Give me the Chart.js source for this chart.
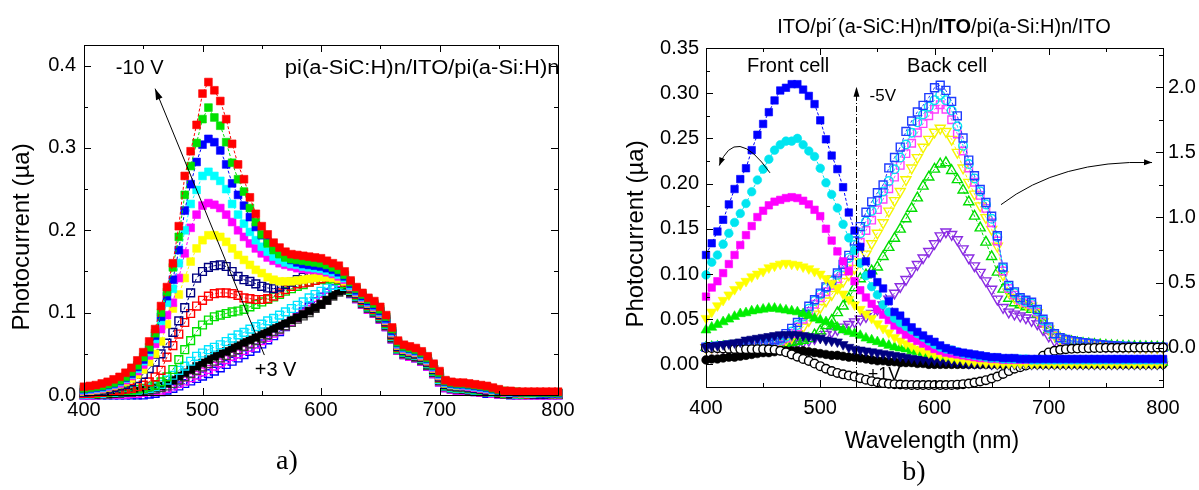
<!DOCTYPE html>
<html><head><meta charset="utf-8">
<script src="https://cdn.jsdelivr.net/npm/chart.js@4.4.1/dist/chart.umd.min.js"></script>
<style>
html,body{margin:0;padding:0;background:#fff;}
#wrap{position:relative;width:1199px;height:490px;overflow:hidden;background:#fff;}
canvas{position:absolute;top:0;}
</style></head>
<body><div id="wrap">
<canvas id="ca" width="600" height="490" style="left:0px;width:600px;height:490px"></canvas>
<canvas id="cb" width="599" height="490" style="left:600px;width:599px;height:490px"></canvas>
</div>
<script>
// ---------- shared wavelength grid (nm) ----------
const WL = [400,405,410,415,420,425,430,435,440,445,
450,455,460,465,470,475,480,485,490,495,
500,505,510,515,520,525,530,535,540,545,
550,555,560,565,570,575,580,585,590,595,
600,605,610,615,620,625,630,635,640,645,
650,655,660,665,670,675,680,685,690,695,
700,705,710,715,720,725,730,735,740,745,
750,755,760,765,770,775,780,785,790,795,800];

// ---------- panel a : pi(a-SiC:H)n/ITO/pi(a-Si:H)n, -10 V ... +3 V ----------
const A_RED_F = [.010,.011,.012,.014,.016,.019,.022,.027,.033,.042,
.052,.065,.080,.108,.131,.160,.205,.266,.296,.328,
.366,.380,.370,.357,.335,.305,.280,.262,.240,.220,
.205,.195,.185,.179,.174,.171,.170,.169,.168,.167,
.166,.163,.160,.157,.150,.139,.131,.124,.118,.114,
.107,.097,.082,.066,.061,.059,.057,.053,.047,.038,
.029,.018,.016,.015,.015,.014,.013,.012,.011,.009,
.007,.005,.005,.004,.004,.004,.004,.004,.004,.004,.004];
const A_GRN_F = [.008,.009,.010,.011,.013,.015,.018,.022,.028,.036,
.046,.058,.075,.100,.125,.155,.192,.243,.278,.306,
.335,.349,.337,.327,.307,.282,.262,.247,.227,.210,
.195,.184,.176,.171,.167,.165,.164,.163,.162,.161,
.160,.158,.155,.152,.146,.137,.129,.122,.116,.111,
.104,.095,.080,.064,.059,.057,.055,.051,.045,.036,
.027,.017,.015,.014,.014,.013,.012,.011,.010,.008,
.006,.005,.004,.004,.003,.003,.003,.003,.003,.003,.003];
const A_BLU_F = [.007,.008,.009,.010,.012,.014,.017,.021,.026,.034,
.043,.055,.072,.095,.120,.140,.176,.224,.256,.283,
.304,.311,.307,.297,.280,.257,.243,.230,.216,.204,
.194,.186,.179,.172,.168,.164,.161,.159,.158,.157,
.156,.154,.152,.149,.144,.135,.127,.120,.114,.109,
.102,.093,.078,.063,.058,.056,.054,.050,.044,.035,
.026,.016,.014,.013,.013,.012,.011,.010,.009,.007,
.005,.004,.004,.003,.003,.003,.003,.002,.002,.002,.002];
const A_CYN_F = [.006,.007,.008,.009,.011,.013,.016,.020,.025,.032,
.041,.052,.068,.090,.112,.129,.160,.200,.232,.249,
.266,.271,.266,.260,.250,.232,.219,.208,.198,.188,
.180,.174,.168,.164,.161,.159,.158,.156,.155,.154,
.153,.151,.149,.146,.142,.133,.126,.119,.113,.108,
.101,.092,.077,.062,.057,.055,.053,.049,.043,.034,
.025,.015,.013,.012,.012,.011,.010,.009,.008,.006,
.005,.004,.003,.003,.003,.002,.002,.002,.002,.002,.002];
const A_MAG_F = [.005,.006,.007,.008,.010,.012,.014,.018,.023,.029,
.037,.048,.062,.080,.097,.112,.142,.172,.203,.219,
.230,.233,.231,.227,.219,.210,.200,.192,.184,.178,
.172,.167,.163,.160,.158,.156,.154,.153,.152,.152,
.151,.149,.147,.144,.140,.132,.125,.118,.112,.107,
.100,.091,.076,.061,.056,.054,.052,.048,.042,.033,
.024,.015,.013,.012,.011,.010,.009,.008,.007,.006,
.004,.003,.003,.003,.002,.002,.002,.002,.002,.002,.002];
const A_YEL_F = [.004,.005,.006,.007,.009,.011,.013,.016,.020,.025,
.031,.040,.050,.065,.086,.105,.122,.142,.162,.178,
.188,.194,.194,.192,.186,.178,.170,.164,.158,.152,
.148,.143,.140,.138,.138,.138,.139,.140,.141,.142,
.143,.143,.142,.141,.138,.131,.124,.117,.111,.106,
.099,.090,.075,.060,.055,.053,.051,.047,.041,.032,
.023,.014,.012,.011,.011,.010,.009,.008,.007,.005,
.004,.003,.003,.002,.002,.002,.002,.002,.002,.001,.001];
const A_NAV_O = [.003,.004,.005,.006,.007,.009,.011,.013,.016,.020,
.025,.032,.040,.050,.063,.076,.090,.106,.124,.142,
.150,.155,.157,.158,.156,.150,.144,.140,.138,.135,
.132,.130,.129,.131,.134,.137,.140,.143,.145,.146,
.147,.148,.147,.144,.139,.130,.123,.116,.110,.105,
.098,.089,.074,.059,.054,.052,.050,.046,.040,.031,
.022,.013,.011,.010,.010,.009,.008,.007,.006,.005,
.004,.003,.002,.002,.002,.002,.001,.001,.001,.001,.001];
const A_RED_O = [.002,.002,.003,.003,.004,.005,.006,.007,.008,.010,
.012,.016,.022,.030,.046,.060,.074,.088,.099,.108,
.115,.120,.123,.124,.124,.123,.121,.118,.117,.116,
.116,.117,.120,.124,.128,.132,.135,.136,.137,.139,
.141,.143,.143,.141,.137,.129,.122,.115,.109,.104,
.097,.088,.073,.058,.054,.052,.050,.046,.040,.031,
.021,.013,.011,.010,.010,.009,.008,.007,.006,.005,
.004,.003,.002,.002,.002,.001,.001,.001,.001,.001,.001];
const A_GRN_O = [.002,.002,.002,.003,.003,.004,.005,.005,.006,.007,
.008,.010,.012,.016,.022,.031,.043,.055,.066,.077,
.085,.091,.095,.097,.099,.101,.102,.104,.107,.110,
.113,.116,.119,.122,.126,.129,.132,.134,.137,.139,
.140,.141,.141,.139,.135,.128,.121,.114,.108,.103,
.096,.087,.072,.057,.053,.051,.049,.045,.039,.030,
.020,.012,.010,.009,.009,.008,.007,.006,.005,.004,
.003,.002,.002,.002,.001,.001,.001,.001,.001,.001,.001];
const A_CYN_O = [.001,.001,.002,.002,.003,.003,.004,.004,.005,.006,
.007,.008,.010,.013,.018,.024,.030,.035,.041,.047,
.051,.055,.058,.061,.065,.069,.073,.076,.080,.083,
.086,.090,.093,.097,.101,.105,.109,.113,.118,.122,
.126,.130,.133,.134,.132,.127,.120,.113,.107,.102,
.095,.086,.071,.056,.052,.050,.048,.044,.038,.029,
.019,.011,.009,.008,.008,.007,.006,.005,.004,.003,
.003,.002,.002,.001,.001,.001,.001,.001,.001,.001,.001];
const A_BLK_F = [.001,.001,.001,.002,.002,.002,.003,.003,.004,.005,
.006,.007,.009,.011,.014,.018,.023,.027,.031,.035,
.039,.043,.047,.050,.053,.057,.060,.064,.067,.070,
.074,.077,.081,.084,.087,.091,.094,.098,.102,.106,
.110,.115,.121,.126,.128,.125,.119,.112,.106,.101,
.094,.085,.070,.056,.051,.049,.047,.043,.037,.028,
.018,.011,.009,.008,.007,.006,.005,.004,.004,.003,
.002,.002,.001,.001,.001,.001,.001,.001,.001,.001,.001];
const A_GRY_O = [.001,.001,.001,.001,.001,.002,.002,.003,.003,.004,
.005,.006,.007,.009,.011,.014,.018,.022,.026,.030,
.034,.038,.041,.045,.048,.052,.055,.059,.062,.066,
.069,.073,.077,.080,.084,.088,.092,.096,.100,.105,
.110,.115,.120,.125,.127,.124,.118,.111,.105,.100,
.093,.084,.069,.055,.050,.048,.046,.042,.036,.027,
.017,.010,.008,.007,.007,.006,.005,.004,.003,.003,
.002,.001,.001,.001,.001,.001,.001,.001,.001,.001,.001];
const A_MAG_O = [.000,.000,.000,.001,.001,.001,.001,.001,.002,.002,
.003,.004,.005,.006,.008,.011,.014,.017,.021,.024,
.028,.031,.035,.039,.043,.047,.050,.054,.058,.062,
.066,.070,.075,.079,.084,.089,.094,.099,.104,.109,
.114,.119,.124,.127,.128,.124,.117,.110,.104,.099,
.092,.083,.068,.054,.049,.047,.045,.041,.035,.026,
.016,.009,.007,.006,.006,.005,.004,.003,.003,.002,
.001,.001,.001,.000,.000,.000,.000,.000,.000,.000,.000];
const A_BLU_O = [.000,.000,.000,.000,.000,.000,.000,.000,.000,.000,
.000,.001,.002,.004,.006,.008,.011,.014,.017,.020,
.023,.026,.029,.033,.037,.041,.045,.049,.053,.057,
.062,.067,.072,.077,.083,.089,.095,.101,.107,.113,
.119,.124,.129,.131,.129,.123,.117,.110,.104,.099,
.092,.083,.068,.054,.049,.047,.045,.041,.035,.026,
.016,.009,.007,.006,.006,.005,.004,.003,.002,.002,
.001,.001,.000,.000,.000,.000,.000,.000,.000,.000,.000];

// ---------- panel b : front cell (left axis, filled) ----------
const B_BLU_F = [.121,.134,.147,.160,.177,.194,.205,.217,.237,.254,
.266,.279,.292,.303,.306,.310,.310,.304,.297,.288,
.270,.249,.231,.216,.196,.168,.148,.130,.114,.100,
.091,.084,.070,.058,.054,.047,.041,.036,.032,.028,
.025,.021,.018,.016,.014,.013,.012,.011,.010,.009,
.008,.008,.007,.007,.007,.006,.006,.006,.006,.006,
.006,.006,.006,.006,.006,.006,.006,.006,.006,.006,
.006,.006,.006,.006,.006,.006,.006,.006,.006,.006,.006];
const B_CYN_F = [.099,.113,.121,.133,.145,.157,.167,.178,.191,.204,
.216,.227,.237,.243,.247,.247,.250,.243,.236,.230,
.217,.201,.188,.173,.155,.140,.126,.112,.098,.086,
.077,.066,.058,.051,.046,.042,.038,.034,.030,.026,
.022,.019,.017,.016,.014,.012,.011,.010,.009,.008,
.007,.007,.006,.006,.006,.006,.006,.005,.005,.005,
.005,.005,.005,.005,.005,.005,.005,.005,.005,.005,
.005,.005,.005,.005,.005,.005,.005,.005,.005,.005,.005];
const B_MAG_F = [.075,.085,.092,.101,.111,.121,.132,.143,.153,.163,
.170,.176,.180,.182,.184,.185,.184,.181,.177,.171,
.164,.150,.137,.125,.114,.103,.092,.082,.074,.067,
.061,.055,.049,.043,.038,.033,.029,.026,.023,.020,
.017,.015,.013,.012,.011,.010,.009,.008,.007,.007,
.006,.006,.005,.005,.005,.005,.005,.005,.005,.005,
.005,.005,.005,.005,.005,.005,.005,.005,.005,.005,
.005,.005,.005,.005,.005,.005,.005,.005,.005,.005,.005];
const B_YEL_F = [.051,.058,.065,.071,.077,.083,.088,.092,.097,.100,
.103,.107,.109,.111,.112,.111,.110,.108,.106,.103,
.100,.095,.090,.084,.078,.072,.066,.061,.056,.051,
.045,.040,.035,.030,.026,.023,.020,.017,.015,.013,
.011,.010,.009,.007,.006,.005,.004,.003,.003,.002,
.002,.001,.001,.001,.001,.001,.001,.001,.001,.001,
.001,.001,.001,.001,.001,.001,.001,.001,.001,.001,
.001,.001,.001,.001,.001,.001,.001,.001,.001,.001,.001];
const B_GRN_F = [.038,.041,.044,.047,.050,.053,.056,.057,.059,.060,
.061,.062,.062,.061,.060,.059,.058,.056,.054,.051,
.049,.047,.044,.041,.038,.036,.034,.032,.029,.027,
.025,.023,.021,.019,.018,.017,.015,.014,.013,.012,
.011,.010,.009,.008,.007,.007,.006,.006,.005,.004,
.004,.003,.003,.002,.002,.002,.002,.002,.002,.002,
.002,.002,.002,.002,.002,.002,.002,.002,.002,.002,
.002,.002,.002,.002,.002,.002,.002,.002,.002,.002,.002];
const B_NAV_F = [.019,.020,.021,.022,.023,.024,.025,.027,.028,.029,
.030,.031,.032,.033,.033,.033,.033,.032,.031,.030,
.029,.027,.026,.025,.022,.019,.017,.016,.015,.014,
.013,.012,.011,.010,.009,.008,.007,.006,.006,.005,
.005,.004,.004,.003,.003,.002,.001,.001,.001,.001,
.000,.000,.000,.000,.000,.000,.000,.000,.000,.000,
.000,.000,.000,.000,.000,.000,.000,.000,.000,.000,
.000,.000,.000,.000,.000,.000,.000,.000,.000,.000,.000];
const B_BLK_F = [.005,.006,.006,.007,.008,.008,.009,.010,.011,.012,
.013,.013,.014,.015,.015,.015,.015,.015,.014,.013,
.012,.011,.010,.010,.009,.008,.008,.007,.006,.005,
.004,.004,.003,.003,.002,.002,.002,.001,.001,.000,
.000,.000,.000,.000,.000,.000,.000,.000,.000,.000,
.000,.000,.000,.000,.000,.000,.000,.000,.000,.000,
.000,.000,.000,.000,.000,.000,.000,.000,.000,.000,
.000,.000,.000,.000,.000,.000,.000,.000,.000,.000,.000];

// ---------- panel b : back cell (right axis, open) ----------
const B_BLU_O = [.005,.010,.014,.017,.020,.024,.028,.033,.037,.041,
.046,.052,.062,.076,.110,.150,.195,.255,.320,.370,
.420,.468,.520,.575,.640,.710,.820,.930,1.040,1.120,
1.190,1.250,1.380,1.460,1.540,1.660,1.740,1.810,1.860,1.920,
1.995,2.015,1.975,1.890,1.780,1.610,1.440,1.320,1.215,1.115,
1.010,.860,.620,.480,.430,.385,.366,.350,.295,.220,
.160,.110,.078,.065,.055,.047,.041,.036,.030,.024,
.020,.017,.015,.012,.011,.010,.010,.009,.008,.006,.005];
const B_CYN_O = [.004,.008,.012,.015,.018,.022,.026,.030,.034,.037,
.040,.044,.048,.060,.085,.125,.175,.240,.300,.360,
.410,.460,.510,.560,.620,.690,.790,.880,.970,1.050,
1.130,1.200,1.280,1.370,1.460,1.560,1.650,1.730,1.790,1.850,
1.900,1.940,1.900,1.820,1.700,1.550,1.410,1.300,1.200,1.100,
.990,.850,.610,.470,.420,.375,.355,.340,.285,.210,
.150,.105,.075,.062,.053,.045,.039,.034,.028,.023,
.019,.016,.014,.012,.010,.009,.009,.008,.007,.006,.005];
const B_MAG_O = [.004,.007,.010,.013,.016,.019,.022,.026,.029,.032,
.035,.039,.045,.055,.075,.110,.160,.220,.280,.335,
.385,.430,.480,.530,.590,.650,.730,.810,.900,.980,
1.060,1.140,1.220,1.310,1.400,1.490,1.570,1.650,1.720,1.780,
1.830,1.865,1.830,1.750,1.640,1.510,1.380,1.270,1.170,1.070,
.960,.820,.590,.455,.405,.365,.345,.330,.275,.200,
.145,.100,.072,.060,.051,.044,.038,.033,.027,.022,
.018,.015,.013,.011,.010,.009,.008,.007,.006,.005,.004];
const B_YEL_O = [.003,.006,.009,.012,.014,.017,.020,.023,.026,.029,
.032,.035,.040,.048,.060,.080,.110,.160,.210,.260,
.310,.360,.410,.460,.510,.560,.610,.660,.720,.800,
.880,.960,1.050,1.130,1.200,1.290,1.380,1.460,1.540,1.600,
1.655,1.685,1.660,1.600,1.500,1.380,1.270,1.180,1.090,1.000,
.910,.780,.560,.430,.385,.350,.335,.320,.270,.200,
.145,.100,.072,.060,.051,.044,.038,.033,.028,.023,
.019,.016,.014,.012,.010,.009,.008,.007,.006,.005,.004];
const B_GRN_O = [.003,.005,.007,.009,.011,.013,.015,.017,.019,.021,
.023,.025,.027,.030,.034,.040,.048,.058,.070,.100,
.130,.170,.210,.270,.320,.380,.460,.530,.560,.590,
.620,.700,.770,.840,.910,.990,1.070,1.150,1.240,1.310,
1.370,1.410,1.420,1.360,1.290,1.210,1.120,1.010,.920,.810,
.700,.580,.450,.380,.345,.330,.315,.295,.260,.195,
.140,.095,.068,.055,.047,.040,.034,.030,.026,.022,
.019,.016,.014,.012,.011,.010,.009,.008,.007,.006,.005];
const B_VIO_O = [.002,.003,.004,.005,.006,.007,.008,.009,.010,.011,
.012,.013,.014,.016,.019,.025,.033,.045,.058,.072,
.087,.104,.122,.140,.160,.180,.200,.220,.240,.265,
.295,.330,.375,.420,.470,.525,.590,.640,.690,.740,
.800,.860,.890,.870,.830,.760,.690,.630,.580,.515,
.450,.375,.310,.275,.260,.245,.230,.210,.185,.140,
.090,.055,.040,.032,.027,.023,.020,.017,.015,.013,
.011,.010,.009,.008,.007,.006,.005,.005,.004,.004,.003];
const B_BLK_O = [.000,.000,-.002,-.004,-.006,-.008,-.009,-.010,-.010,-.010,
-.010,-.011,-.014,-.022,-.034,-.050,-.068,-.085,-.100,-.120,
-.140,-.160,-.178,-.192,-.203,-.212,-.220,-.232,-.244,-.255,
-.264,-.270,-.275,-.278,-.281,-.283,-.284,-.285,-.285,-.285,
-.285,-.285,-.285,-.284,-.282,-.278,-.273,-.266,-.258,-.248,
-.235,-.220,-.200,-.178,-.160,-.148,-.135,-.120,-.095,-.060,
-.035,-.022,-.015,-.010,-.007,-.005,-.003,-.002,.000,.000,
.001,.001,.001,.001,.002,.002,.002,.002,.002,.002,.002];

// ---------- tick labels ----------
const A_X_TICKS = [400,500,600,700,800];
const A_X_MINOR = [450,550,650,750];
const A_Y_TICKS = [0,0.1,0.2,0.3,0.4];
const A_Y_MINOR = [0.05,0.15,0.25,0.35];
const B_X_TICKS = [400,500,600,700,800];
const B_X_MINOR = [450,550,650,750];
const B_YL_TICKS = [0,0.05,0.10,0.15,0.20,0.25,0.30,0.35];
const B_YL_MINOR = [0.025,0.075,0.125,0.175,0.225,0.275,0.325];
const B_YR_TICKS = [0,0.5,1.0,1.5,2.0];
const B_YR_MINOR = [-0.25,0.25,0.75,1.25,1.75,2.25];

const SANS = "'Liberation Sans', Arial, Helvetica, sans-serif";
const SERIF = "'Liberation Serif', 'Times New Roman', serif";
const TICKFONT = {family: SANS, size: 20};

function series(vals, color, opts) {
  const open = opts.open;
  return Object.assign({
    data: WL.map((x, i) => ({x: x, y: vals[i]})),
    borderColor: color,
    borderWidth: 1,
    borderDash: [3, 2],
    fill: false,
    tension: 0,
    clip: false,
    pointStyle: 'rect',
    pointRadius: 5.5,
    pointRotation: 0,
    pointBackgroundColor: open ? (opts.white ? '#ffffff' : 'rgba(0,0,0,0)') : color,
    pointBorderColor: color,
    pointBorderWidth: open ? 1.4 : 0.6,
    pointHoverRadius: 0
  }, opts.extra || {});
}

function drawTicks(ctx, a, scale, majors, minors, where) {
  const seg = (x1, y1, x2, y2) => { ctx.moveTo(x1, y1); ctx.lineTo(x2, y2); };
  ctx.beginPath();
  const doList = (list, len) => list.forEach(v => {
    const p = Math.round(scale.getPixelForValue(v)) + 0.5;
    if (where === 'bottom') seg(p, a.bottom, p, a.bottom - len);
    if (where === 'top') seg(p, a.top, p, a.top + len);
    if (where === 'left') seg(a.left, p, a.left + len, p);
    if (where === 'right') seg(a.right, p, a.right - len, p);
  });
  doList(majors, 7);
  doList(minors, 4);
  ctx.stroke();
}
function drawBox(ctx, a) {
  ctx.strokeRect(Math.round(a.left) + 0.5, Math.round(a.top) + 0.5,
                 Math.round(a.right - a.left), Math.round(a.bottom - a.top));
}
function arrowHead(ctx, x, y, ang, len, wid) {
  const c = Math.cos(ang), s = Math.sin(ang);
  ctx.beginPath();
  ctx.moveTo(x, y);
  ctx.lineTo(x - len * c + wid * s, y - len * s - wid * c);
  ctx.lineTo(x - len * c - wid * s, y - len * s + wid * c);
  ctx.closePath();
  ctx.fill();
}

// ================= Panel a =================
const plugA = {
  id: 'plugA',
  afterDraw(chart) {
    const {ctx, chartArea: a, scales: s} = chart;
    const X = v => s.x.getPixelForValue(v), Y = v => s.y.getPixelForValue(v);
    ctx.save();
    ctx.strokeStyle = '#000'; ctx.lineWidth = 1;
    drawBox(ctx, a);
    drawTicks(ctx, a, s.x, A_X_TICKS, A_X_MINOR, 'bottom');
    drawTicks(ctx, a, s.x, A_X_TICKS, A_X_MINOR, 'top');
    drawTicks(ctx, a, s.y, A_Y_TICKS, A_Y_MINOR, 'left');
    drawTicks(ctx, a, s.y, A_Y_TICKS, A_Y_MINOR, 'right');
    // arrow -10 V  <-  +3 V
    const x1 = X(552.2), y1 = Y(0.0485), x2 = X(460), y2 = Y(0.372);
    ctx.beginPath(); ctx.moveTo(x1, y1); ctx.lineTo(x2, y2); ctx.stroke();
    ctx.fillStyle = '#000';
    arrowHead(ctx, x2, y2, Math.atan2(y2 - y1, x2 - x1), 11, 3.5);
    // texts
    ctx.font = '20px ' + SANS;
    ctx.textBaseline = 'middle';
    ctx.textAlign = 'center';
    ctx.fillText('-10 V', X(447), Y(0.397));
    ctx.fillText('+3 V', X(561.7), Y(0.0303));
    ctx.save();
    ctx.beginPath(); ctx.rect(a.left, 0, a.right - a.left + 1, 490); ctx.clip();
    ctx.textAlign = 'left';
    ctx.translate(X(569.5), Y(0.397));
    ctx.scale(1.1, 1);
    ctx.fillText('pi(a-SiC:H)n/ITO/pi(a-Si:H)n', 0, 0);
    ctx.restore();
    // y title
    ctx.save();
    ctx.translate(22, 237); ctx.rotate(-Math.PI / 2);
    ctx.font = '24px ' + SANS; ctx.textAlign = 'center';
    ctx.fillText('Photocurrent (\u00b5a)', 0, 0);
    ctx.restore();
    // panel label
    ctx.font = '28px ' + SERIF; ctx.textAlign = 'center';
    ctx.fillText('a)', 287, 462);
    ctx.restore();
  }
};

const aSets = [
  series(A_RED_F, '#ff0000', {}),
  series(A_GRN_F, '#00e000', {}),
  series(A_BLU_F, '#0000ff', {}),
  series(A_CYN_F, '#00ffff', {}),
  series(A_MAG_F, '#ff00ff', {}),
  series(A_YEL_F, '#ffff00', {}),
  series(A_NAV_O, '#000080', {open: true}),
  series(A_RED_O, '#ff0000', {open: true}),
  series(A_GRN_O, '#00e000', {open: true}),
  series(A_CYN_O, '#00e5ff', {open: true}),
  series(A_BLK_F, '#000000', {}),
  series(A_GRY_O, '#404040', {open: true}),
  series(A_MAG_O, '#ff00ff', {open: true}),
  series(A_BLU_O, '#0000ff', {open: true})
];

new Chart(document.getElementById('ca'), {
  type: 'line',
  data: {datasets: aSets},
  options: {
    responsive: false, animation: false, devicePixelRatio: 1, events: [],
    layout: {padding: {left: 0, right: 42, top: 45, bottom: 0}},
    plugins: {legend: {display: false}, tooltip: {enabled: false}},
    scales: {
      x: {
        type: 'linear', min: 400, max: 800, position: 'bottom',
        grid: {display: false, drawTicks: false}, border: {display: false},
        ticks: {font: TICKFONT, color: '#000', padding: 3, maxRotation: 0, autoSkip: false},
        afterBuildTicks: sc => { sc.ticks = A_X_TICKS.map(v => ({value: v})); },
        afterFit: sc => { sc.height = 95; }
      },
      y: {
        type: 'linear', min: 0, max: 0.425, position: 'left',
        grid: {display: false, drawTicks: false}, border: {display: false},
        ticks: {font: TICKFONT, color: '#000', padding: 8, autoSkip: false,
                callback: v => Number(v).toFixed(1)},
        afterBuildTicks: sc => { sc.ticks = A_Y_TICKS.map(v => ({value: v})); },
        afterFit: sc => { sc.width = 84; }
      }
    }
  },
  plugins: [plugA]
});

// ================= Panel b =================
const plugB = {
  id: 'plugB',
  beforeDatasetsDraw(chart) {
    const {ctx, scales: s} = chart;
    const X = v => s.x.getPixelForValue(v), Y = v => s.y.getPixelForValue(v);
    ctx.save();
    ctx.fillStyle = '#000';
    ctx.font = '18px ' + SANS; ctx.textAlign = 'center'; ctx.textBaseline = 'middle';
    ctx.fillText('+1V', X(555.8), Y(-0.012));
    ctx.restore();
  },
  afterDraw(chart) {
    const {ctx, chartArea: a, scales: s} = chart;
    const X = v => s.x.getPixelForValue(v), Y = v => s.y.getPixelForValue(v);
    ctx.save();
    ctx.strokeStyle = '#000'; ctx.fillStyle = '#000'; ctx.lineWidth = 1;
    drawBox(ctx, a);
    drawTicks(ctx, a, s.x, B_X_TICKS, B_X_MINOR, 'bottom');
    drawTicks(ctx, a, s.x, B_X_TICKS, B_X_MINOR, 'top');
    drawTicks(ctx, a, s.y, B_YL_TICKS, B_YL_MINOR, 'left');
    drawTicks(ctx, a, s.y2, B_YR_TICKS, B_YR_MINOR, 'right');
    // dash-dot vertical arrow (-5V)
    const vx = Math.round(X(531.7)) + 0.5;
    ctx.save();
    ctx.setLineDash([6, 2, 1, 2]);
    ctx.beginPath(); ctx.moveTo(vx, a.bottom); ctx.lineTo(vx, Y(0.300)); ctx.stroke();
    ctx.restore();
    arrowHead(ctx, vx, Y(0.307), -Math.PI / 2, 10, 3);
    // curved arrow left (front cell -> left axis)
    ctx.beginPath();
    const p0 = [X(456.0), Y(0.2119)], c0 = [X(425.8), Y(0.2661)], e0 = [X(411.6), Y(0.220)];
    ctx.moveTo(p0[0], p0[1]); ctx.quadraticCurveTo(c0[0], c0[1], e0[0], e0[1]); ctx.stroke();
    arrowHead(ctx, e0[0], e0[1], Math.atan2(e0[1] - c0[1], e0[0] - c0[0]), 8, 3);
    // curved arrow right (back cell -> right axis)
    ctx.beginPath();
    const p1 = [X(658.2), Y(0.1767)], c1 = [X(709.8), Y(0.2267)], e1 = [X(790.4), Y(0.2233)];
    ctx.moveTo(p1[0], p1[1]); ctx.quadraticCurveTo(c1[0], c1[1], e1[0], e1[1]); ctx.stroke();
    arrowHead(ctx, e1[0], e1[1], Math.atan2(e1[1] - c1[1], e1[0] - c1[0]), 8, 3);
    // texts inside
    ctx.textBaseline = 'middle'; ctx.textAlign = 'center';
    ctx.font = '20px ' + SANS;
    ctx.fillText('Front cell', X(471.8), Y(0.330));
    ctx.fillText('Back cell', X(611), Y(0.330));
    ctx.font = '17px ' + SANS;
    ctx.fillText('-5V', X(554.7), Y(0.297));
    // title with bold ITO
    const parts = [['ITO/pi\u00b4(a-SiC:H)n/', ''], ['ITO', 'bold '], ['/pi(a-Si:H)n/ITO', '']];
    let w = 0;
    parts.forEach(p => { ctx.font = p[1] + '20px ' + SANS; w += ctx.measureText(p[0]).width; });
    let tx = 344 - w / 2;
    ctx.textAlign = 'left';
    parts.forEach(p => { ctx.font = p[1] + '20px ' + SANS; ctx.fillText(p[0], tx, 27); tx += ctx.measureText(p[0]).width; });
    // x title
    ctx.textAlign = 'center';
    ctx.font = '23px ' + SANS;
    ctx.fillText('Wavelength (nm)', 332, 442);
    // y title
    ctx.save();
    ctx.translate(36, 234); ctx.rotate(-Math.PI / 2);
    ctx.font = '24px ' + SANS;
    ctx.fillText('Photocurrent (\u00b5a)', 0, 0);
    ctx.restore();
    // panel label
    ctx.font = '28px ' + SERIF;
    ctx.fillText('b)', 314, 473);
    ctx.restore();
  }
};

const TRI_DN = {pointStyle: 'triangle', pointRotation: 180, pointRadius: 5.8};
const TRI_UP = {pointStyle: 'triangle', pointRotation: 0, pointRadius: 5.8};
const bSets = [
  series(B_BLU_F, '#0000ff', {extra: {pointRadius: 5.3}}),
  series(B_CYN_F, '#00e5f0', {extra: {pointStyle: 'circle', pointRadius: 4.3}}),
  series(B_MAG_F, '#ff00ff', {extra: {pointRadius: 5.3}}),
  series(B_YEL_F, '#ffff00', {extra: TRI_DN}),
  series(B_GRN_F, '#00ee00', {extra: TRI_UP}),
  series(B_NAV_F, '#000080', {extra: TRI_DN}),
  series(B_BLK_O, '#000000', {open: true, white: true, extra: {pointStyle: 'circle', pointRadius: 4.3, yAxisID: 'y2', borderDash: [], borderWidth: 0}}),
  series(B_BLK_F, '#000000', {extra: {pointStyle: 'circle', pointRadius: 4.3}}),
  series(B_BLU_O, '#1f3cff', {open: true, extra: {pointRadius: 5.6, yAxisID: 'y2'}}),
  series(B_CYN_O, '#00e5f0', {open: true, extra: {pointStyle: 'circle', pointRadius: 4.3, yAxisID: 'y2'}}),
  series(B_MAG_O, '#ff40ff', {open: true, extra: {pointRadius: 5.3, yAxisID: 'y2'}}),
  series(B_YEL_O, '#f5f500', {open: true, extra: Object.assign({yAxisID: 'y2'}, TRI_DN)}),
  series(B_GRN_O, '#00dd00', {open: true, extra: Object.assign({yAxisID: 'y2'}, TRI_UP)}),
  series(B_VIO_O, '#8a2be2', {open: true, extra: Object.assign({yAxisID: 'y2'}, TRI_DN)})
];

new Chart(document.getElementById('cb'), {
  type: 'line',
  data: {datasets: bSets},
  options: {
    responsive: false, animation: false, devicePixelRatio: 1, events: [],
    layout: {padding: {left: 0, right: 0, top: 48, bottom: 0}},
    plugins: {legend: {display: false}, tooltip: {enabled: false}},
    scales: {
      x: {
        type: 'linear', min: 400, max: 800, position: 'bottom',
        grid: {display: false, drawTicks: false}, border: {display: false},
        ticks: {font: TICKFONT, color: '#000', padding: 9, maxRotation: 0, autoSkip: false},
        afterBuildTicks: sc => { sc.ticks = B_X_TICKS.map(v => ({value: v})); },
        afterFit: sc => { sc.height = 103; }
      },
      y: {
        type: 'linear', min: -0.025, max: 0.35, position: 'left',
        grid: {display: false, drawTicks: false}, border: {display: false},
        ticks: {font: TICKFONT, color: '#000', padding: 7, autoSkip: false,
                callback: v => Number(v).toFixed(2)},
        afterBuildTicks: sc => { sc.ticks = B_YL_TICKS.map(v => ({value: v})); },
        afterFit: sc => { sc.width = 106; }
      },
      y2: {
        type: 'linear', min: -0.3, max: 2.3, position: 'right',
        grid: {display: false, drawTicks: false}, border: {display: false},
        ticks: {font: TICKFONT, color: '#000', padding: 5, autoSkip: false,
                callback: v => Number(v).toFixed(1)},
        afterBuildTicks: sc => { sc.ticks = B_YR_TICKS.map(v => ({value: v})); },
        afterFit: sc => { sc.width = 36; }
      }
    }
  },
  plugins: [plugB]
});
</script>
</body></html>
